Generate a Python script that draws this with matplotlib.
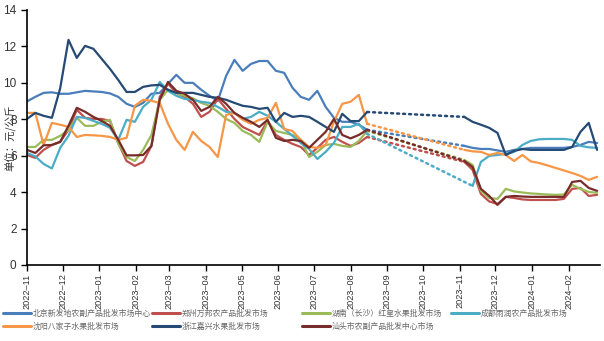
import numpy as np
import pandas as pd
import matplotlib
matplotlib.use("Agg")
import matplotlib.pyplot as plt
import matplotlib.dates as mdates

plt.rcParams['font.family'] = ['Liberation Sans', 'Noto Sans CJK SC', 'DejaVu Sans']

# weekly readings, two periods with a gap between them
dates1 = pd.date_range("2022-11-01", periods=42, freq="7D")
dates2 = pd.date_range("2023-11-05", periods=17, freq="7D")

names = ["北京新发地农副产品批发市场中心", "郑州万邦农产品批发市场", "湖南（长沙）红星水果批发市场",
         "成都雨润农产品批发市场", "沈阳八家子水果批发市场", "浙江嘉兴水果批发市场",
         "汕头市农副产品批发中心市场"]
colors = ["#4a7ebb", "#c0504d", "#9bbb59", "#4bacc6", "#f79646", "#254a74", "#772c2a"]

beijing1 = [8.98, 9.23, 9.45, 9.48, 9.4, 9.4, 9.48, 9.56, 9.53, 9.5, 9.42, 9.23, 8.85, 8.68,
            8.9, 9.4, 9.45, 9.95, 10.44, 10.0, 10.0, 9.62, 9.29, 9.01, 10.38, 11.26, 10.66, 11.04,
            11.2, 11.2, 10.66, 10.55, 9.73, 9.23, 9.07, 9.56, 8.68, 8.08, 7.86, 7.86, 7.7, 7.42]
beijing2 = [6.54, 6.43, 6.37, 6.37, 6.29, 6.21, 6.32, 6.37, 6.43, 6.43, 6.43, 6.43, 6.43,
            6.48, 6.59, 6.76, 6.7]

zhengzhou1 = [6.04, 5.88, 6.32, 6.59, 6.76, 7.42, 8.52, 8.08, 8.02, 8.02, 7.91, 6.7, 5.71, 5.44,
              5.66, 6.54, 9.23, 9.95, 9.45, 9.23, 8.85, 8.13, 8.41, 9.12, 8.57, 8.02, 7.58, 7.36,
              7.14, 7.91, 7.14, 6.87, 6.65, 6.48, 6.04, 6.43, 6.87, 7.03, 6.76, 6.54, 6.7, 7.03]
zhengzhou2 = [5.66, 5.22, 3.9, 3.49, 3.35, 3.74, 3.68, 3.6, 3.57, 3.57, 3.57, 3.57, 3.63,
              4.18, 4.23, 3.79, 3.85]

hunan1 = [6.48, 6.48, 6.87, 6.87, 7.09, 7.42, 8.08, 7.64, 7.64, 7.86, 7.97, 6.65, 5.93, 5.71,
          6.32, 7.14, 9.07, 9.62, 9.45, 9.29, 9.15, 8.9, 8.74, 8.41, 8.02, 7.8, 7.36, 7.14,
          6.76, 7.86, 7.36, 7.25, 7.14, 6.87, 5.93, 6.21, 6.59, 6.65, 6.54, 6.48, 6.81, 7.36]
hunan2 = [5.77, 5.49, 4.07, 3.68, 3.63, 4.18, 4.04, 3.98, 3.93, 3.9, 3.87, 3.85, 3.87,
          4.4, 4.18, 4.01, 3.96]

chengdu1 = [6.15, 5.96, 5.55, 5.3, 6.43, 7.09, 8.13, 8.08, 7.91, 7.75, 7.53, 6.87, 7.97, 7.86,
            8.68, 9.07, 10.05, 9.56, 9.29, 9.12, 9.07, 8.96, 8.9, 8.68, 8.41, 8.35, 8.02, 8.13,
            8.41, 8.19, 7.86, 7.47, 7.09, 6.7, 6.37, 5.82, 6.21, 6.7, 7.58, 7.58, 7.75, 7.2]
chengdu2 = [np.nan, 4.34, 5.66, 5.99, 6.04, 6.1, 6.21, 6.59, 6.81, 6.9, 6.92, 6.92, 6.92,
            6.87, 6.54, 6.46, 6.43]

shenyang1 = [8.35, 8.35, 6.59, 7.8, 7.7, 7.58, 7.03, 7.14, 7.12, 7.09, 7.03, 6.87, 6.98, 8.74,
             9.07, 9.01, 8.9, 7.75, 6.87, 6.32, 7.31, 6.81, 6.48, 5.93, 8.24, 8.35, 7.97, 7.75,
             7.97, 8.08, 8.9, 7.47, 7.36, 6.87, 6.48, 6.43, 6.59, 7.86, 8.85, 8.96, 9.34, 7.75]
shenyang2 = [6.32, 6.24, 6.21, 6.04, 6.15, 6.04, 5.71, 6.04, 5.69, 5.6, 5.47, 5.33, 5.19,
             5.05, 4.89, 4.67, 4.84]

zhejiang1 = [8.02, 8.35, 8.19, 8.08, 9.7, 12.36, 11.37, 12.03, 11.87, 11.32, 10.77, 10.16, 9.5,
             9.5, 9.78, 9.86, 9.89, 9.62, 9.45, 9.45, 9.45, 9.34, 9.23, 9.18, 9.07, 8.9, 8.74,
             8.68, 8.57, 8.63, 7.86, 8.35, 8.13, 8.19, 8.13, 7.86, 7.58, 7.31, 8.3, 7.9, 7.9, 8.4]
zhejiang2 = [8.13, 7.86, 7.7, 7.53, 7.25, 6.04, 6.26, 6.37, 6.32, 6.32, 6.32, 6.32, 6.32,
             6.48, 7.31, 7.8, 6.32]

shantou1 = [6.32, 6.15, 6.57, 6.59, 6.76, 7.64, 8.63, 8.41, 8.13, 7.91, 7.64, 6.87, 6.02, 6.02,
            6.04, 6.54, 9.07, 10.05, 9.56, 9.4, 9.07, 8.46, 8.68, 9.23, 8.85, 8.35, 8.08, 7.86,
            7.58, 7.97, 6.98, 6.81, 6.87, 6.81, 6.43, 6.87, 7.31, 8.02, 7.14, 6.95, 7.14, 7.42]
shantou2 = [5.71, 5.38, 4.18, 3.79, 3.3, 3.74, 3.79, 3.76, 3.74, 3.74, 3.74, 3.74, 3.74,
            4.56, 4.62, 4.23, 4.07]

first = [beijing1, zhengzhou1, hunan1, chengdu1, shenyang1, zhejiang1, shantou1]
second = [beijing2, zhengzhou2, hunan2, chengdu2, shenyang2, zhejiang2, shantou2]

fig = plt.figure(figsize=(6.04, 3.41), dpi=100)
ax = fig.add_axes([0.0447, 0.2229, 0.9487, 0.7478])

handles = []
for name, c, s1, s2 in zip(names, colors, first, second):
    s2 = np.array(s2, dtype=float)
    h, = ax.plot(dates1, s1, color=c, lw=1.6, label=name, solid_capstyle="round")
    ax.plot(dates2, s2, color=c, lw=1.6, solid_capstyle="round")
    i = np.where(~np.isnan(s2))[0][0]
    ax.plot([dates1[-1], dates2[i]], [s1[-1], s2[i]], color=c, lw=1.8,
            linestyle=(0, (0.8, 1.6)), dash_capstyle="round")
    handles.append(h)

ax.set_ylim(0, 14)
ax.set_yticks(range(0, 15, 2))
ax.set_xlim(pd.Timestamp("2022-11-01"), pd.Timestamp("2022-11-01") + pd.Timedelta(days=483.5))
ax.xaxis.set_major_locator(mdates.MonthLocator())
ax.xaxis.set_major_formatter(mdates.DateFormatter("%Y–%m"))
plt.setp(ax.get_xticklabels(), rotation=90, fontsize=6.6, color="#333333")
plt.setp(ax.get_yticklabels(), fontsize=8.5, color="#333333")
ax.tick_params(length=4, width=1, color="black")
ax.tick_params(axis="x", pad=2)
for s in ["top", "right"]:
    ax.spines[s].set_visible(False)
ax.spines["left"].set_linewidth(1.2)
ax.spines["bottom"].set_linewidth(1.2)

fig.text(0.018, 0.595, "单位：元/公斤", rotation=90, fontsize=7.5, color="#333333",
         ha="center", va="center", family=["Noto Sans CJK SC"])

# legend laid out in four fixed-width columns, filled row by row
col_x = [3, 152, 302, 451]
for col in range(4):
    idx = [i for i in (col, col + 4) if i < len(names)]
    leg = fig.legend([handles[i] for i in idx], [names[i] for i in idx],
                     loc="upper left", bbox_to_anchor=(col_x[col] / 604, 1 - 310 / 341),
                     frameon=False, fontsize=5.7, handlelength=3.5, handletextpad=0.25,
                     labelspacing=0.6, borderpad=0, borderaxespad=0)
    for t in leg.get_texts():
        t.set_color("#666666")
    for l in leg.get_lines():
        l.set_linewidth(2.2)

fig.savefig("out.png", dpi=100)
